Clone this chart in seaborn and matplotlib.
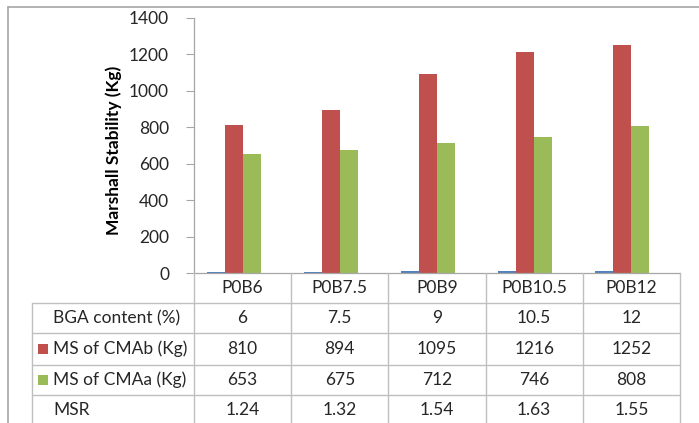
import matplotlib
matplotlib.use("Agg")
import matplotlib.pyplot as plt
import matplotlib.transforms as mtransforms
from matplotlib.lines import Line2D
from matplotlib.patches import Rectangle
import pandas as pd
import seaborn as sns

mixes = ["P0B6", "P0B7.5", "P0B9", "P0B10.5", "P0B12"]
series_names = ["BGA content (%)", "MS of CMAb (Kg)", "MS of CMAa (Kg)", "MSR"]
bga_content = [6, 7.5, 9, 10.5, 12]
ms_cmab = [810, 894, 1095, 1216, 1252]
ms_cmaa = [653, 675, 712, 746, 808]
msr = [1.24, 1.32, 1.54, 1.63, 1.55]
table_text = [
    ["6", "7.5", "9", "10.5", "12"],
    ["810", "894", "1095", "1216", "1252"],
    ["653", "675", "712", "746", "808"],
    ["1.24", "1.32", "1.54", "1.63", "1.55"],
]
yticks = [0, 200, 400, 600, 800, 1000, 1200, 1400]
colors = ["#4F81BD", "#C0504D", "#9BBB59", "#8064A2"]
show_key = [False, True, True, False]

sns.set_style("white")
plt.rcParams["font.family"] = ["Lato", "DejaVu Sans"]

W, H = 699, 423
fig = plt.figure(figsize=(W / 100, H / 100), dpi=100)
fig.patch.set_facecolor("white")


def fx(px):
    return px / W


def fy(py):
    return 1 - py / H


ax_left, ax_right, ax_top, ax_bottom = 194, 680, 18, 273
ax = fig.add_axes([fx(ax_left), fy(ax_bottom), fx(ax_right - ax_left),
                   (ax_bottom - ax_top) / H])

df = pd.DataFrame({
    "mix": mixes * 4,
    "series": sum([[s] * len(mixes) for s in series_names], []),
    "value": bga_content + ms_cmab + ms_cmaa + msr,
})

sns.barplot(data=df, x="mix", y="value", hue="series", order=mixes,
            hue_order=series_names, palette=colors, width=0.74,
            saturation=1, linewidth=0, legend=False, ax=ax)

fs = 12.5
ax.set_xlim(-0.5, len(mixes) - 0.5)
ax.set_ylim(0, 1400)
ax.set_yticks(yticks)
ax.set_yticklabels([str(t) for t in yticks], fontsize=fs, color="#262626")
ax.set_xticks([])
ax.set_xlabel("")
ax.set_ylabel("Marshall Stability (Kg)", fontsize=12.5, fontweight="bold",
              color="black")
ax.yaxis.set_label_coords(-0.148, 0.48)
ax.tick_params(axis="y", direction="out", length=6, width=0.8,
               color="#A6A6A6", left=True, pad=12)
for side in ["top", "right"]:
    ax.spines[side].set_visible(False)
ax.spines["left"].set_color("#A6A6A6")
ax.spines["bottom"].set_color("#A6A6A6")
ax.spines["left"].set_linewidth(0.9)
ax.spines["bottom"].set_linewidth(0.9)

# data table under the plot, columns aligned to the category scale
blend = mtransforms.blended_transform_factory(ax.transData, fig.transFigure)
grid_color = "#BFBFBF"
row_lines = [273, 303, 333, 365, 395]
row_header_left = 32
bottom_px = 430

# vertical column separators
for i in range(len(mixes) + 1):
    xd = i - 0.5
    fig.add_artist(Line2D([xd, xd], [fy(273), fy(bottom_px)], transform=blend,
                          color=grid_color, lw=1.0))
# row header left border
fig.add_artist(Line2D([fx(row_header_left)] * 2, [fy(303), fy(bottom_px)],
                      transform=fig.transFigure, color=grid_color, lw=1.0))
# horizontal row lines
for ry in row_lines[1:]:
    fig.add_artist(Line2D([fx(row_header_left), fx(ax_right)], [fy(ry), fy(ry)],
                          transform=fig.transFigure, color=grid_color, lw=1.0))

text_color = "#262626"
# category header row
for i, m in enumerate(mixes):
    fig.text(i, fy((273 + 303) / 2), m, transform=blend, ha="center",
             va="center", fontsize=fs, color=text_color)

row_centers = [(303 + 333) / 2, (333 + 365) / 2, (365 + 395) / 2, (395 + 425) / 2]
for r, name in enumerate(series_names):
    cy = row_centers[r]
    if show_key[r]:
        fig.add_artist(Rectangle((fx(38), fy(cy + 5)), fx(10), 10 / H,
                                 transform=fig.transFigure,
                                 facecolor=colors[r], edgecolor="none"))
    fig.text(fx(53), fy(cy), name, ha="left", va="center", fontsize=fs,
             color=text_color)
    for i, val in enumerate(table_text[r]):
        fig.text(i, fy(cy), val, transform=blend, ha="center", va="center",
                 fontsize=fs, color=text_color)

# chart area frame
frame_color = "#A6A6A6"
fig.add_artist(Line2D([fx(8), fx(8)], [fy(7), 0], transform=fig.transFigure,
                      color=frame_color, lw=1.2))
fig.add_artist(Line2D([fx(8), 1], [fy(7), fy(7)], transform=fig.transFigure,
                      color=frame_color, lw=1.2))

fig.savefig("out.png", dpi=100, facecolor="white")
